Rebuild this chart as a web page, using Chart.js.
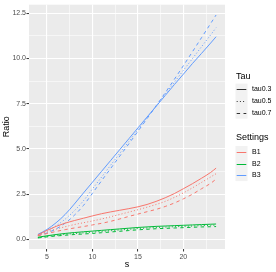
<!DOCTYPE html>
<html>
<head>
<meta charset="utf-8">
<script src="https://cdn.jsdelivr.net/npm/chart.js@4"></script>
<style>
    html, body { margin: 0; padding: 0; background: #ffffff; }
    #wrap { width: 276px; height: 272px; }
</style>
</head>
<body>
<div id="wrap"><canvas id="chart" width="276" height="272"></canvas></div>
<script>

// ############################### DATA ###############################

var s = [4, 5, 6, 7, 8, 9, 10, 11, 12, 13, 14, 15, 16, 17, 18, 19, 20, 21, 22, 23, 23.6];

// B1 (red)
var b1_tau03 = [0.25, 0.50, 0.72, 0.90, 1.04, 1.17, 1.30, 1.42, 1.52, 1.61, 1.70, 1.80, 1.93, 2.10, 2.30, 2.53, 2.80, 3.08, 3.38, 3.70, 3.94];
var b1_tau05 = [0.22, 0.40, 0.57, 0.70, 0.82, 0.92, 1.02, 1.13, 1.25, 1.38, 1.51, 1.64, 1.78, 1.93, 2.10, 2.32, 2.57, 2.85, 3.15, 3.45, 3.63];
var b1_tau07 = [0.20, 0.32, 0.44, 0.54, 0.63, 0.71, 0.80, 0.89, 1.00, 1.13, 1.27, 1.40, 1.53, 1.66, 1.82, 2.01, 2.24, 2.50, 2.80, 3.10, 3.33];

// B2 (green)
var b2_tau03 = [0.12, 0.20, 0.27, 0.33, 0.38, 0.42, 0.46, 0.50, 0.54, 0.58, 0.62, 0.66, 0.69, 0.72, 0.74, 0.76, 0.78, 0.80, 0.82, 0.84, 0.85];
var b2_tau05 = [0.10, 0.17, 0.23, 0.28, 0.32, 0.36, 0.40, 0.44, 0.48, 0.52, 0.56, 0.60, 0.63, 0.66, 0.68, 0.70, 0.72, 0.74, 0.76, 0.78, 0.79];
var b2_tau07 = [0.08, 0.14, 0.19, 0.23, 0.27, 0.30, 0.33, 0.37, 0.41, 0.45, 0.49, 0.53, 0.56, 0.59, 0.61, 0.63, 0.65, 0.67, 0.69, 0.70, 0.71];

// B3 (blue)
var b3_tau03 = [0.28, 0.55, 0.92, 1.38, 1.95, 2.56, 3.16, 3.76, 4.36, 4.96, 5.56, 6.16, 6.76, 7.35, 7.95, 8.55, 9.13, 9.72, 10.28, 10.85, 11.20];
var b3_tau05 = [0.25, 0.45, 0.75, 1.12, 1.58, 2.13, 2.79, 3.44, 4.10, 4.75, 5.41, 6.06, 6.72, 7.37, 8.03, 8.68, 9.34, 9.99, 10.65, 11.30, 11.70];
var b3_tau07 = [0.22, 0.36, 0.58, 0.90, 1.33, 1.87, 2.55, 3.24, 3.92, 4.60, 5.28, 5.97, 6.67, 7.38, 8.10, 8.84, 9.60, 10.37, 11.15, 11.93, 12.40];

// axis breaks and labels
var xBreaks = [5, 10, 15, 20];
var xMinor = [7.5, 12.5, 17.5, 22.5];
var xLabels = ['5', '10', '15', '20'];
var yBreaks = [0, 2.5, 5, 7.5, 10, 12.5];
var yMinor = [1.25, 3.75, 6.25, 8.75, 11.25];
var yLabels = ['0.0', '2.5', '5.0', '7.5', '10.0', '12.5'];

var tauLabels = ['tau0.3', 'tau0.5', 'tau0.7'];
var settingLabels = ['B1', 'B2', 'B3'];

// ############################### STYLE ###############################

var FONT = '"Liberation Sans", Arial, sans-serif';
var settingColors = ['#F8766D', '#00BA38', '#619CFF'];
var tauDash = [[], [1, 2.2], [3.4, 3.4]];

var series = [
    [b1_tau03, b1_tau05, b1_tau07],
    [b2_tau03, b2_tau05, b2_tau07],
    [b3_tau03, b3_tau05, b3_tau07]
];

function toPoints(vals) {
    return s.map(function (x, i) { return {x: x, y: vals[i]}; });
}

var datasets = [];
for (var k = 0; k < settingLabels.length; k++) {
    for (var t = 0; t < tauLabels.length; t++) {
        datasets.push({
            label: settingLabels[k] + ' ' + tauLabels[t],
            data: toPoints(series[k][t]),
            borderColor: settingColors[k],
            borderWidth: 1,
            borderDash: tauDash[t],
            pointRadius: 0,
            fill: false,
            cubicInterpolationMode: 'monotone'
        });
    }
}

function isIn(list, v) {
    for (var i = 0; i < list.length; i++)
        if (Math.abs(list[i] - v) < 1e-6) return i;
    return -1;
}

function gridWidth(breaks) {
    return function (ctx) {
        if (!ctx.tick) return 0.55;
        return isIn(breaks, ctx.tick.value) >= 0 ? 1.1 : 0.55;
    };
}

function tickColor(breaks) {
    return function (ctx) {
        if (!ctx.tick) return 'rgba(0,0,0,0)';
        return isIn(breaks, ctx.tick.value) >= 0 ? '#333333' : 'rgba(0,0,0,0)';
    };
}

// ####################### PANEL BACKGROUND AND LEGEND #######################

var panelPlugin = {
    id: 'panel',
    beforeDraw: function (chart) {
        var a = chart.chartArea;
        var c = chart.ctx;
        c.save();
        c.fillStyle = '#EBEBEB';
        c.fillRect(a.left, a.top, a.right - a.left, a.bottom - a.top);
        c.restore();
    }
};

var legendPlugin = {
    id: 'ggLegend',
    afterDraw: function (chart) {
        var c = chart.ctx;
        var keyX = 235.5, keyW = 12, keyH = 11.7;
        c.save();
        c.textBaseline = 'middle';
        c.textAlign = 'left';

        // Tau (linetype)
        c.fillStyle = '#000';
        c.font = '9px ' + FONT;
        c.fillText('Tau', 236, 76.5);
        var top1 = 83.6;
        c.fillStyle = '#F2F2F2';
        c.fillRect(keyX, top1, keyW, keyH * 3);
        for (var i = 0; i < tauLabels.length; i++) {
            var y = Math.round(top1 + keyH * i + keyH / 2) + 0.5;
            c.strokeStyle = '#333333';
            c.lineWidth = 1;
            c.setLineDash(tauDash[i]);
            c.beginPath();
            c.moveTo(keyX + 1.2, y);
            c.lineTo(keyX + keyW - 1.2, y);
            c.stroke();
            c.setLineDash([]);
            c.fillStyle = '#000';
            c.font = '7px ' + FONT;
            c.fillText(tauLabels[i], 252, y);
        }

        // Settings (colour)
        c.fillStyle = '#000';
        c.font = '9px ' + FONT;
        c.fillText('Settings', 236, 138);
        var top2 = 146;
        c.fillStyle = '#F2F2F2';
        c.fillRect(keyX, top2, keyW, keyH * 3);
        for (var j = 0; j < settingLabels.length; j++) {
            var y2 = Math.round(top2 + keyH * j + keyH / 2) + 0.5;
            c.strokeStyle = settingColors[j];
            c.lineWidth = 1;
            c.beginPath();
            c.moveTo(keyX + 1.2, y2);
            c.lineTo(keyX + keyW - 1.2, y2);
            c.stroke();
            c.fillStyle = '#000';
            c.font = '7px ' + FONT;
            c.fillText(settingLabels[j], 252, y2);
        }
        c.restore();
    }
};

// ############################### MAIN ###############################

var chart = new Chart(document.getElementById('chart'), {
    type: 'line',
    data: {datasets: datasets},
    plugins: [panelPlugin, legendPlugin],
    options: {
        responsive: false,
        animation: false,
        devicePixelRatio: 1,
        layout: {padding: {left: 0, top: 3, right: 51, bottom: 0}},
        plugins: {
            legend: {display: false},
            tooltip: {enabled: false}
        },
        scales: {
            x: {
                type: 'linear',
                min: 3.02,
                max: 24.58,
                afterBuildTicks: function (scale) {
                    scale.ticks = xBreaks.concat(xMinor).sort(function (a, b) { return a - b; })
                        .map(function (v) { return {value: v}; });
                },
                afterFit: function (scale) { scale.height = 23; },
                border: {display: false},
                grid: {
                    color: '#FFFFFF',
                    lineWidth: gridWidth(xBreaks),
                    tickColor: tickColor(xBreaks),
                    tickWidth: 1,
                    tickLength: 2.5
                },
                ticks: {
                    autoSkip: false,
                    maxRotation: 0,
                    padding: 1,
                    color: '#4D4D4D',
                    font: {family: FONT, size: 7},
                    callback: function (v) {
                        var i = isIn(xBreaks, v);
                        return i >= 0 ? xLabels[i] : '';
                    }
                },
                title: {
                    display: true,
                    text: 's',
                    color: '#000',
                    font: {family: FONT, size: 9},
                    padding: {top: 0, bottom: 2.5}
                }
            },
            y: {
                type: 'linear',
                min: -0.53,
                max: 12.97,
                afterBuildTicks: function (scale) {
                    scale.ticks = yBreaks.concat(yMinor).sort(function (a, b) { return a - b; })
                        .map(function (v) { return {value: v}; });
                },
                afterFit: function (scale) { scale.width = 29; },
                border: {display: false},
                grid: {
                    color: '#FFFFFF',
                    lineWidth: gridWidth(yBreaks),
                    tickColor: tickColor(yBreaks),
                    tickWidth: 1,
                    tickLength: 2.5
                },
                ticks: {
                    autoSkip: false,
                    padding: 0.5,
                    color: '#4D4D4D',
                    font: {family: FONT, size: 7},
                    callback: function (v) {
                        var i = isIn(yBreaks, v);
                        return i >= 0 ? yLabels[i] : '';
                    }
                },
                title: {
                    display: true,
                    text: 'Ratio',
                    color: '#000',
                    font: {family: FONT, size: 9},
                    padding: {top: 1.5, bottom: 0}
                }
            }
        }
    }
});
</script>
</body>
</html>
